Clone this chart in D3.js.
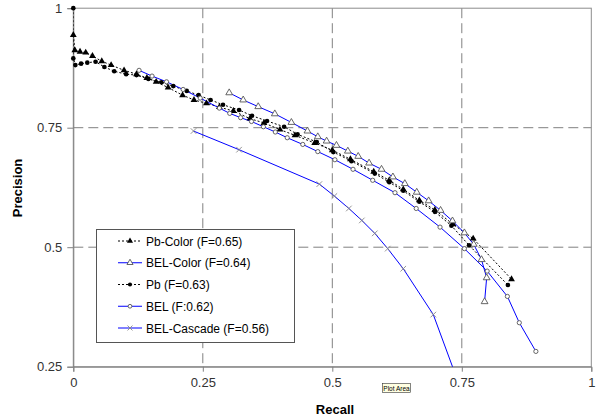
<!DOCTYPE html>
<html>
<head>
<meta charset="utf-8">
<script src="https://cdn.jsdelivr.net/npm/d3@7"></script>
<style>
body { margin: 0; background: #fff; }
svg text { font-family: "Liberation Sans", Arial, sans-serif; }
</style>
</head>
<body>
<script>
// recall / precision pairs
let pbColor = [[0, 0.944], [0.003, 0.912], [0.013, 0.909], [0.024, 0.907], [0.037, 0.900], [0.055, 0.889], [0.073, 0.881], [0.098, 0.870], [0.122, 0.862], [0.142, 0.854], [0.16, 0.846], [0.183, 0.834], [0.211, 0.818], [0.233, 0.808], [0.257, 0.801], [0.282, 0.793], [0.309, 0.785], [0.341, 0.769], [0.368, 0.760], [0.399, 0.746], [0.428, 0.734], [0.466, 0.718], [0.5, 0.703], [0.535, 0.684], [0.58, 0.658], [0.61, 0.64], [0.637, 0.621], [0.668, 0.598], [0.698, 0.578], [0.733, 0.548], [0.772, 0.518], [0.846, 0.433]];
let belColor = [[0.301, 0.823], [0.328, 0.808], [0.357, 0.794], [0.389, 0.779], [0.421, 0.761], [0.452, 0.743], [0.472, 0.731], [0.489, 0.722], [0.508, 0.713], [0.53, 0.701], [0.55, 0.690], [0.571, 0.676], [0.595, 0.663], [0.617, 0.647], [0.64, 0.633], [0.663, 0.615], [0.686, 0.597], [0.709, 0.577], [0.732, 0.555], [0.755, 0.530], [0.773, 0.506], [0.788, 0.474], [0.798, 0.436], [0.794, 0.386]];
let pb = [[0, 1.0], [0, 0.895], [0.004, 0.881], [0.015, 0.884], [0.027, 0.886], [0.043, 0.888], [0.06, 0.877], [0.079, 0.868], [0.102, 0.862], [0.122, 0.860], [0.145, 0.852], [0.17, 0.845], [0.193, 0.837], [0.219, 0.827], [0.242, 0.818], [0.265, 0.808], [0.289, 0.798], [0.32, 0.787], [0.345, 0.775], [0.374, 0.764], [0.407, 0.752], [0.433, 0.736], [0.47, 0.72], [0.502, 0.699], [0.537, 0.68], [0.582, 0.654], [0.61, 0.636], [0.637, 0.618], [0.668, 0.595], [0.698, 0.574], [0.73, 0.545], [0.764, 0.504], [0.839, 0.421]];
let bel = [[0.127, 0.870], [0.152, 0.858], [0.18, 0.846], [0.212, 0.830], [0.245, 0.812], [0.282, 0.791], [0.302, 0.780], [0.323, 0.771], [0.344, 0.763], [0.367, 0.752], [0.39, 0.741], [0.413, 0.729], [0.443, 0.715], [0.472, 0.700], [0.505, 0.683], [0.54, 0.663], [0.578, 0.640], [0.621, 0.614], [0.662, 0.581], [0.708, 0.542], [0.755, 0.497], [0.799, 0.450], [0.838, 0.397], [0.861, 0.342], [0.893, 0.282]];
let belCascade = [[0.232, 0.743], [0.320, 0.704], [0.475, 0.632], [0.504, 0.607], [0.532, 0.581], [0.557, 0.556], [0.582, 0.529], [0.607, 0.497], [0.637, 0.455], [0.695, 0.359], [0.745, 0.212]];

let seriesNames = ["Pb-Color (F=0.65)", "BEL-Color (F=0.64)", "Pb (F=0.63)", "BEL (F:0.62)", "BEL-Cascade (F=0.56)"];
let xTicks = [0, 0.25, 0.5, 0.75, 1];
let yTicks = [0.25, 0.5, 0.75, 1];

let svg = d3.select("body").append("svg")
	.attr("width", 599)
	.attr("height", 419);

//plot area edges in pixels
let pLeft = 73.3, pRight = 591.3, pTop = 8.2, pBottom = 366.7;

let x = d3.scaleLinear().domain([0, 1]).range([pLeft, pRight]);
let y = d3.scaleLinear().domain([0.25, 1]).range([pBottom, pTop]);

svg.append("clipPath").attr("id", "clip")
	.append("rect")
	.attr("x", pLeft).attr("y", pTop)
	.attr("width", pRight - pLeft).attr("height", pBottom - pTop);

//dashed gridlines
let grid = svg.append("g").attr("stroke", "#808080").attr("stroke-dasharray", "10,5");
grid.selectAll(".gx").data(xTicks.slice(1, -1)).join("line")
	.attr("x1", d => x(d)).attr("x2", d => x(d))
	.attr("y1", pTop).attr("y2", pBottom);
grid.selectAll(".gy").data(yTicks.slice(1, -1)).join("line")
	.attr("x1", pLeft).attr("x2", pRight)
	.attr("y1", d => y(d)).attr("y2", d => y(d));

//plot area border
svg.append("rect")
	.attr("x", pLeft).attr("y", pTop)
	.attr("width", pRight - pLeft).attr("height", pBottom - pTop)
	.attr("fill", "none")
	.attr("stroke", "#8c8c8c");

//axes
let xAxis = d3.axisBottom(x).tickValues(xTicks).tickSize(5).tickPadding(6).tickFormat(d3.format(""));
let yAxis = d3.axisLeft(y).tickValues(yTicks).tickSize(6).tickPadding(5).tickFormat(d3.format(""));

let xG = svg.append("g").attr("transform", `translate(0,${pBottom})`).call(xAxis);
let yG = svg.append("g").attr("transform", `translate(${pLeft},0)`).call(yAxis);
[xG, yG].forEach(g => {
	g.select(".domain").attr("stroke", "#808080");
	g.selectAll(".tick line").attr("stroke", "#808080");
	g.selectAll("text").attr("font-size", 13).attr("fill", "#333")
		.attr("font-family", "'Liberation Sans', Arial, sans-serif");
});

svg.append("text")
	.attr("x", 335).attr("y", 414)
	.attr("text-anchor", "middle")
	.attr("font-size", 13).attr("font-weight", "bold")
	.text("Recall");

svg.append("text")
	.attr("transform", "translate(22,188) rotate(-90)")
	.attr("text-anchor", "middle")
	.attr("font-size", 13).attr("font-weight", "bold")
	.text("Precision");

//series styles
let series = [
	{data: pbColor, stroke: "#000", dash: "2,2", width: 1, sym: d3.symbolTriangle, size: 20, fill: "#000", mstroke: "none"},
	{data: belColor, stroke: "#0000ff", dash: null, width: 1, sym: d3.symbolTriangle, size: 20, fill: "#fff", mstroke: "#555"},
	{data: pb, stroke: "#000", dash: "2,2", width: 1, sym: d3.symbolCircle, size: 17, fill: "#000", mstroke: "none"},
	{data: bel, stroke: "#0000ff", dash: null, width: 1, sym: d3.symbolCircle, size: 14, fill: "#fff", mstroke: "#555"},
	{data: belCascade, stroke: "#0000ff", dash: null, width: 1, sym: d3.symbolTimes, size: 22, fill: "none", mstroke: "#888"}
];

let line = d3.line().x(d => x(d[0])).y(d => y(d[1]));
let plot = svg.append("g").attr("clip-path", "url(#clip)");
let marks = svg.append("g");

series.forEach(s => {
	plot.append("path")
		.datum(s.data)
		.attr("fill", "none")
		.attr("stroke", s.stroke)
		.attr("stroke-width", s.width)
		.attr("stroke-dasharray", s.dash)
		.attr("d", line);
	//markers are not clipped, but ones off the axis range are not drawn
	marks.selectAll(null).data(s.data.filter(d => d[1] >= 0.25)).join("path")
		.attr("transform", d => `translate(${x(d[0])},${y(d[1])})`)
		.attr("d", d3.symbol().type(s.sym).size(s.size))
		.attr("fill", s.fill)
		.attr("stroke", s.mstroke)
		.attr("stroke-width", 0.9);
});

//legend
let legend = svg.append("g");
legend.append("rect")
	.attr("x", 96.5).attr("y", 229.5)
	.attr("width", 198).attr("height", 113)
	.attr("fill", "#fff")
	.attr("stroke", "#555");

let rowY = d3.scalePoint().domain(seriesNames).range([241, 328]);
series.forEach((s, i) => {
	let ry = rowY(seriesNames[i]);
	legend.append("line")
		.attr("x1", 118).attr("x2", 142)
		.attr("y1", ry).attr("y2", ry)
		.attr("stroke", s.stroke)
		.attr("stroke-width", s.width)
		.attr("stroke-dasharray", s.dash);
	legend.append("path")
		.attr("transform", `translate(130,${ry})`)
		.attr("d", d3.symbol().type(s.sym).size(s.size * 0.8))
		.attr("fill", s.fill)
		.attr("stroke", s.mstroke)
		.attr("stroke-width", 0.9);
	legend.append("text")
		.attr("x", 146).attr("y", ry + 4.5)
		.attr("font-size", 12)
		.attr("fill", "#000")
		.text(seriesNames[i]);
});

//the little "Plot Area" tooltip
let tip = svg.append("g");
tip.append("rect")
	.attr("x", 382.5).attr("y", 383.5)
	.attr("width", 28).attr("height", 9)
	.attr("fill", "#ffffe1")
	.attr("stroke", "#333")
	.attr("stroke-width", 0.6);
tip.append("text")
	.attr("x", 396.5).attr("y", 390.5)
	.attr("text-anchor", "middle")
	.attr("font-size", 6.5)
	.text("Plot Area");
</script>
</body>
</html>
